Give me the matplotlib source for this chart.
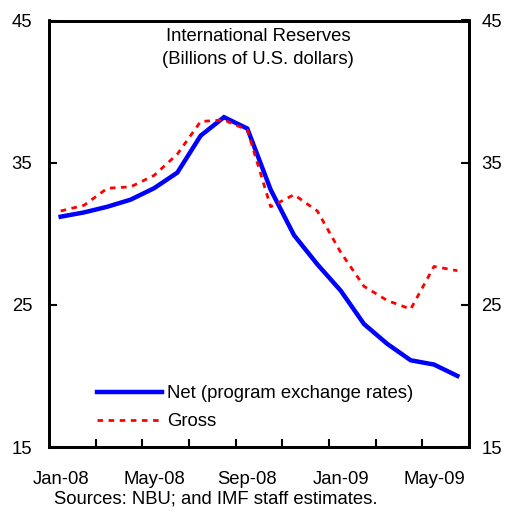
import matplotlib
matplotlib.use("Agg")
import matplotlib.pyplot as plt
import numpy as np

plt.rcParams['font.family'] = ['Liberation Sans', 'DejaVu Sans']

months = ["Jan-08", "Feb-08", "Mar-08", "Apr-08", "May-08", "Jun-08", "Jul-08", "Aug-08", "Sep-08",
          "Oct-08", "Nov-08", "Dec-08", "Jan-09", "Feb-09", "Mar-09", "Apr-09", "May-09", "Jun-09"]
net = [31.2, 31.5, 31.9, 32.4, 33.2, 34.3, 36.9, 38.2, 37.4, 33.1, 29.9, 27.85, 26.0, 23.65, 22.25, 21.1, 20.8, 20.0]
gross = [31.6, 32.0, 33.2, 33.3, 34.1, 35.6, 37.9, 38.0, 37.3, 31.9, 32.75, 31.6, 28.7, 26.3, 25.3, 24.7, 27.7, 27.4]
tick_labels = ["Jan-08", "May-08", "Sep-08", "Jan-09", "May-09"]
yticks = [15, 25, 35, 45]

FS = 13.3
W, H = 511, 515
fig = plt.figure(figsize=(W/100, H/100), dpi=100)
ax = fig.add_axes([49/W, 1-447/H, (469-49)/W, (447-20.5)/H])
x = np.arange(len(months))
ax.plot(x, net, color='#0000FF', lw=3.2, label='Net (program exchange rates)', solid_joinstyle='miter')
ax.plot(x, gross, color='#FF0000', lw=2, ls=(0, (2, 2)), label='Gross')

ax.set_xlim(-0.5, len(months) - 0.5)
ax.set_ylim(15, 45)
ax.set_yticks(yticks)
ax.set_xticks([months.index(m) for m in tick_labels])
ax.set_xticklabels(tick_labels, fontsize=FS)
ax.tick_params(axis='x', length=0, pad=17)
ax.set_xticks(np.arange(1.5, len(months) - 1, 2), minor=True)
ax.tick_params(axis='x', which='minor', direction='in', length=6, width=1.5)
ax.tick_params(axis='y', direction='in', length=6, width=1.5, labelsize=FS, pad=12)
for s in ax.spines.values():
    s.set_linewidth(2)

ax2 = ax.twinx()
ax2.set_ylim(15, 45)
ax2.set_yticks(yticks)
ax2.tick_params(axis='y', direction='in', length=6, width=1.5, labelsize=FS, pad=9)
for s in ax2.spines.values():
    s.set_linewidth(2)

fig.text(258/W, 1-36.7/H, "International Reserves", ha='center', va='center', fontsize=FS)
fig.text(258/W, 1-60/H, "(Billions of U.S. dollars)", ha='center', va='center', fontsize=FS)
ax.legend(loc='lower left', bbox_to_anchor=(0.075, 0.0), frameon=False, fontsize=FS,
          handlelength=3.5, handletextpad=0.3, labelspacing=0.6)
fig.text(54/W, 1-499/H, "Sources: NBU; and IMF staff estimates.", fontsize=FS, va='center')
fig.savefig("out.png", dpi=100)
